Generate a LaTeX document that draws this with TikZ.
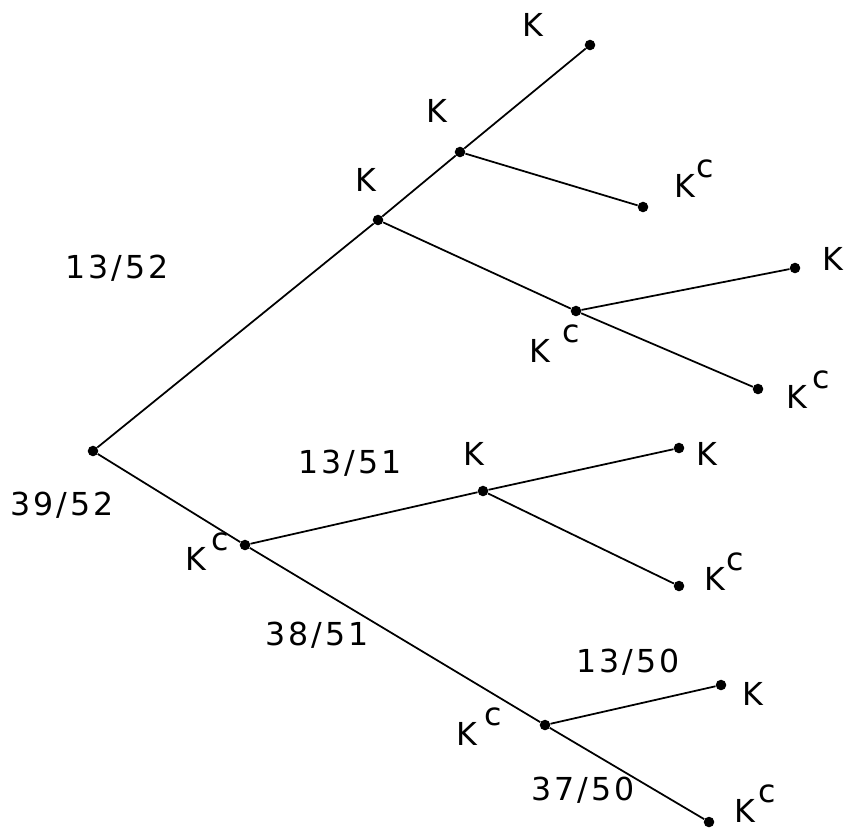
\documentclass[tikz,border=0pt]{standalone}
\usepackage{fontspec}
\newfontfamily\treefont[LetterSpace=10]{DejaVu Sans}
\usetikzlibrary{positioning}
\newcommand{\Kc}[1][1pt]{K\hspace{#1}\raisebox{1.15ex}{c}}

\begin{document}
\begin{tikzpicture}[x=0.02cm,y=-0.02cm,
		branch/.style={line width=1pt},
		dot/.style={circle,fill,inner sep=0pt,minimum size=6pt},
		lbl/.style={inner sep=0pt,anchor=base west,font={\treefont\fontsize{18}{21}\selectfont}}]
	\useasboundingbox (0,0) rectangle (847,829);
	% tree points
	\node[dot] (root) at (93,451) {};
	\node[dot] (k) at (378,220) {};
	\node[dot] (kk) at (460,152) {};
	\node[dot] (kkk) at (590,45) {};
	\node[dot] (kkc) at (643,207) {};
	\node[dot] (kc) at (576,311) {};
	\node[dot] (kck) at (795,268) {};
	\node[dot] (kckc) at (758,389) {};
	\node[dot] (c) at (245,545) {};
	\node[dot] (ck) at (483,491) {};
	\node[dot] (ckk) at (679,448) {};
	\node[dot] (ckc) at (679,586) {};
	\node[dot] (cc) at (545,725) {};
	\node[dot] (cck) at (721,685) {};
	\node[dot] (ccc) at (709,822) {};
	% branches
	\draw[branch] (root) -- (k) -- (kk) -- (kkk);
	\draw[branch] (kk) -- (kkc);
	\draw[branch] (k) -- (kc) -- (kckc);
	\draw[branch] (kc) -- (kck);
	\draw[branch] (root) -- (c) -- (cc) -- (ccc);
	\draw[branch] (c) -- (ck) -- (ckk);
	\draw[branch] (ck) -- (ckc);
	\draw[branch] (cc) -- (cck);
	% outcome labels
	\node[lbl] (lkkk) at (522,36) {K};
	\node[lbl] (lkk) at (426,122) {K};
	\node[lbl] (lk) at (355,191) {K};
	\node[lbl] (lkkc) at (674,197) {\Kc};
	\node[lbl] (lkck) at (822,270) {K};
	\node[lbl] (lkc) at (529,362) {\Kc[7pt]};
	\node[lbl] (lkckc) at (786,408) {\Kc[3pt]};
	\node[lbl] (lck) at (463,465) {K};
	\node[lbl] (lckk) at (696,465) {K};
	\node[lbl] (lc) at (185,570) {\Kc[3pt]};
	\node[lbl] (lckc) at (704,590) {\Kc};
	\node[lbl] (lcck) at (742,705) {K};
	\node[lbl] (lcc) at (456,745) {\Kc[4pt]};
	\node[lbl] (lccc) at (734,822) {\Kc[2pt]};
	% probabilities
	\node[lbl] (p1) at (65,278) {13/52};
	\node[lbl] (p2) at (10,515) {39/52};
	\node[lbl] (p3) at (298,473) {13/51};
	\node[lbl] (p4) at (265,645) {38/51};
	\node[lbl] (p5) at (576,672) {13/50};
	\node[lbl] (p6) at (531,800) {37/50};
\end{tikzpicture}
\end{document}
